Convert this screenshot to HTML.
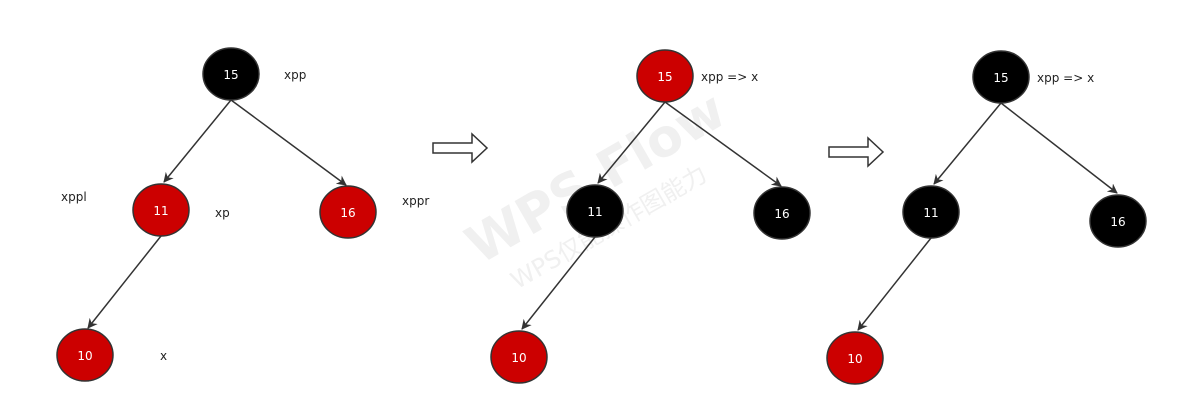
<!DOCTYPE html>
<html><head><meta charset="utf-8"><style>
html,body{margin:0;padding:0;background:#fff;}
svg{display:block;font-family:"DejaVu Sans","Liberation Sans",sans-serif;}
</style></head><body>
<svg width="1177" height="415" viewBox="0 0 1177 415" xmlns="http://www.w3.org/2000/svg">
<defs>
<marker id="ah" markerWidth="10" markerHeight="10" refX="9" refY="5" orient="auto" markerUnits="userSpaceOnUse">
<path d="M0,0 L10,5 L0,10 L3,5 Z" fill="#333"/>
</marker>
</defs>
<g transform="translate(575,210) rotate(-30)" fill="#f0f0f0" font-weight="bold">
<text x="-110" y="0" font-size="52">WPS Flow</text>
<text x="-90" y="40" font-size="24" font-weight="normal">WPS仅能操作图能力</text>
</g>
<g stroke="#333" stroke-width="1.5" fill="none" marker-end="url(#ah)">
<line x1="231" y1="100" x2="164" y2="182"/>
<line x1="231" y1="100" x2="346" y2="185"/>
<line x1="161" y1="236" x2="88" y2="328"/>
<line x1="665" y1="102" x2="598" y2="183"/>
<line x1="665" y1="102" x2="781" y2="186"/>
<line x1="595" y1="237" x2="522" y2="329"/>
<line x1="1001" y1="103" x2="934" y2="184"/>
<line x1="1001" y1="103" x2="1117" y2="193"/>
<line x1="931" y1="238" x2="858" y2="330"/>
</g>
<g stroke="#333" stroke-width="1.5">
<ellipse cx="231" cy="74" rx="28" ry="26" fill="#000"/>
<ellipse cx="161" cy="210" rx="28" ry="26" fill="#cc0000"/>
<ellipse cx="348" cy="212" rx="28" ry="26" fill="#cc0000"/>
<ellipse cx="85" cy="355" rx="28" ry="26" fill="#cc0000"/>
<ellipse cx="665" cy="76" rx="28" ry="26" fill="#cc0000"/>
<ellipse cx="595" cy="211" rx="28" ry="26" fill="#000"/>
<ellipse cx="782" cy="213" rx="28" ry="26" fill="#000"/>
<ellipse cx="519" cy="357" rx="28" ry="26" fill="#cc0000"/>
<ellipse cx="1001" cy="77" rx="28" ry="26" fill="#000"/>
<ellipse cx="931" cy="212" rx="28" ry="26" fill="#000"/>
<ellipse cx="1118" cy="221" rx="28" ry="26" fill="#000"/>
<ellipse cx="855" cy="358" rx="28" ry="26" fill="#cc0000"/>
</g>
<g fill="#fff" font-size="12" text-anchor="middle">
<text x="231" y="79">15</text><text x="161" y="215">11</text><text x="348" y="217">16</text><text x="85" y="360">10</text>
<text x="665" y="81">15</text><text x="595" y="216">11</text><text x="782" y="218">16</text><text x="519" y="362">10</text>
<text x="1001" y="82">15</text><text x="931" y="217">11</text><text x="1118" y="226">16</text><text x="855" y="363">10</text>
</g>
<g fill="#222" font-size="12">
<text x="284" y="79">xpp</text><text x="61" y="201">xppl</text><text x="215" y="217">xp</text>
<text x="402" y="205">xppr</text><text x="160" y="360">x</text>
<text x="701" y="81">xpp =&gt; x</text><text x="1037" y="82">xpp =&gt; x</text>
</g>
<g fill="#fff" stroke="#333" stroke-width="1.5">
<path d="M433,143 L472,143 L472,134 L487,148 L472,162 L472,153 L433,153 Z"/>
<path d="M829,147 L868,147 L868,138 L883,152 L868,166 L868,157 L829,157 Z"/>
</g>
</svg>
</body></html>
